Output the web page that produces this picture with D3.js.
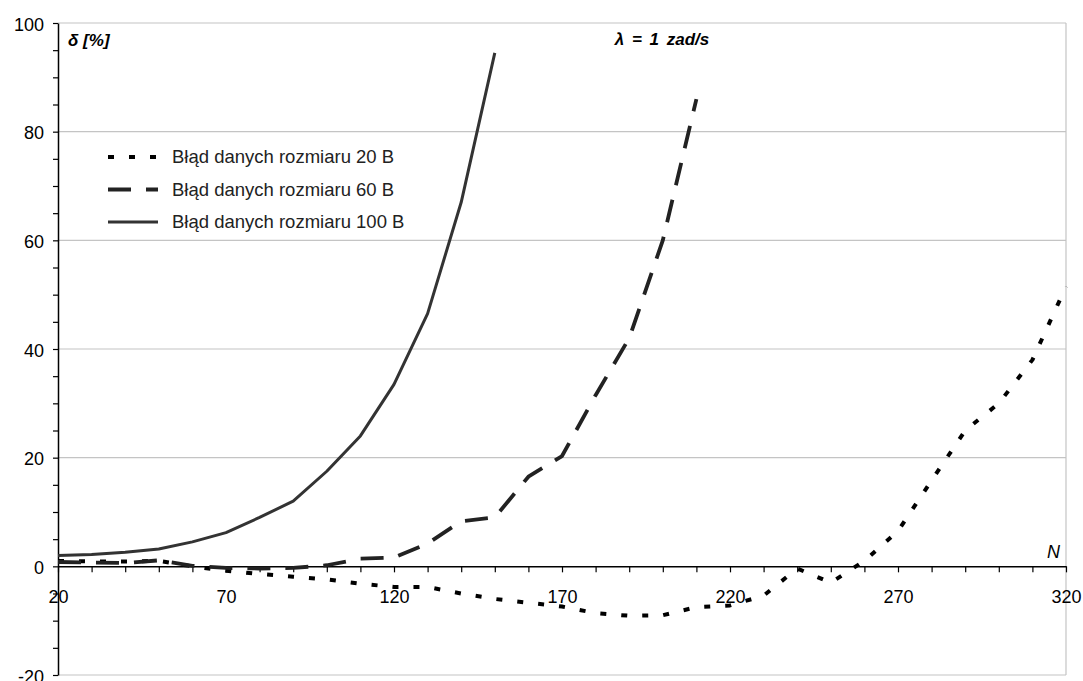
<!DOCTYPE html>
<html>
<head>
<meta charset="utf-8">
<script src="https://cdn.jsdelivr.net/npm/d3@7"></script>
<style>
  body { margin: 0; background: #fff; }
  text { font-family: "Liberation Sans", Arial, sans-serif; }
</style>
</head>
<body>
<div id="chart"></div>
<script>
// chart data
var n20 = [20, 30, 40, 50, 60, 70, 80, 90, 100, 110, 120, 130, 140, 150, 160, 170, 180, 190, 200, 210, 220, 230, 240, 250, 260, 270, 280, 290, 300, 310, 320];
var err20 = [1, 0.9, 0.9, 1, 0, -0.8, -1.4, -1.9, -2.4, -3.2, -3.8, -3.8, -5, -6, -6.7, -7.4, -8.6, -9.1, -9, -7.5, -7.2, -5.4, -0.4, -3, 1, 6.5, 15.8, 25, 30, 38, 51.5];
var n60 = [20, 30, 40, 50, 60, 70, 80, 90, 100, 110, 120, 130, 140, 150, 160, 170, 180, 190, 200, 210];
var err60 = [0.8, 0.7, 0.6, 1.1, 0.1, -0.3, -0.4, -0.3, 0.2, 1.4, 1.6, 4.2, 8.3, 9, 16.5, 20.3, 31.5, 42, 60, 86];
var n100 = [20, 30, 40, 50, 60, 70, 80, 90, 100, 110, 120, 130, 140, 150];
var err100 = [2, 2.2, 2.6, 3.2, 4.5, 6.2, 9, 12, 17.5, 24, 33.5, 46.5, 67, 94.5];

var seriesNames = ["Błąd danych rozmiaru 20 B", "Błąd danych rozmiaru 60 B", "Błąd danych rozmiaru 100 B"];
var xTickLabels = [20, 70, 120, 170, 220, 270, 320];
var yTickLabels = [-20, 0, 20, 40, 60, 80, 100];

var WIDTH = 1083, HEIGHT = 681;
var plotLeft = 58, plotRight = 1066, plotTop = 23, plotBottom = 675;

var svg = d3.select("#chart").append("svg")
    .attr("width", WIDTH)
    .attr("height", HEIGHT);

var x = d3.scaleLinear().domain([20, 320]).range([plotLeft, plotRight]);
var y = d3.scaleLinear().domain([-20, 100]).range([plotBottom, plotTop]);

// grid lines
svg.selectAll(".grid")
    .data([20, 40, 60, 80, 100])
    .enter().append("line")
    .attr("x1", plotLeft).attr("x2", plotRight)
    .attr("y1", function(d) { return y(d); })
    .attr("y2", function(d) { return y(d); })
    .attr("stroke", "#c4c4c4")
    .attr("stroke-width", 1.2);

// plot area border (right and bottom)
svg.append("line")
    .attr("x1", plotRight).attr("x2", plotRight).attr("y1", plotTop).attr("y2", plotBottom)
    .attr("stroke", "#c4c4c4").attr("stroke-width", 1.2);
svg.append("line")
    .attr("x1", plotLeft).attr("x2", plotRight).attr("y1", plotBottom).attr("y2", plotBottom)
    .attr("stroke", "#c4c4c4").attr("stroke-width", 1.2);

// y axis: minor ticks every 5, labels every 20
var yAxis = d3.axisLeft(y)
    .tickValues(d3.range(-20, 101, 5))
    .tickSize(5)
    .tickSizeOuter(0)
    .tickFormat(function(d) { return yTickLabels.indexOf(d) >= 0 ? d : ""; });
var gy = svg.append("g")
    .attr("transform", "translate(" + plotLeft + ",0)")
    .call(yAxis);
gy.select(".domain").attr("stroke", "#000").attr("stroke-width", 1.5);
gy.selectAll(".tick line").attr("stroke", "#000").attr("stroke-width", 1.2);
gy.selectAll(".tick text")
    .attr("x", -14)
    .attr("dy", "0.4em")
    .attr("font-size", "18px")
    .attr("font-family", "Liberation Sans, Arial, sans-serif")
    .attr("fill", "#000");

// x axis at zero
var xAxis = d3.axisBottom(x)
    .tickValues(d3.range(20, 321, 10))
    .tickSize(6)
    .tickSizeOuter(0)
    .tickFormat(function(d) { return xTickLabels.indexOf(d) >= 0 ? d : ""; });
var gx = svg.append("g")
    .attr("transform", "translate(0," + y(0) + ")")
    .call(xAxis);
gx.select(".domain").attr("stroke", "#000").attr("stroke-width", 1.5);
gx.selectAll(".tick line").attr("stroke", "#000").attr("stroke-width", 1.2);
gx.selectAll(".tick text")
    .attr("y", 24)
    .attr("font-size", "18px")
    .attr("font-family", "Liberation Sans, Arial, sans-serif")
    .attr("fill", "#000");

// series
var series = [
    { xs: n20, ys: err20, color: "#000", width: 4, dash: "6,15" },
    { xs: n60, ys: err60, color: "#222", width: 3.8, dash: "23,15" },
    { xs: n100, ys: err100, color: "#333", width: 3, dash: null }
];

var line = d3.line()
    .x(function(d) { return x(d[0]); })
    .y(function(d) { return y(d[1]); });

series.forEach(function(s) {
    var pts = s.xs.map(function(v, i) { return [v, s.ys[i]]; });
    svg.append("path")
        .datum(pts)
        .attr("d", line)
        .attr("fill", "none")
        .attr("stroke", s.color)
        .attr("stroke-width", s.width)
        .attr("stroke-dasharray", s.dash)
        .attr("stroke-linejoin", "round");
});

// legend
var legendY = [157, 189.5, 222];
series.forEach(function(s, i) {
    svg.append("line")
        .attr("x1", 108).attr("x2", 158)
        .attr("y1", legendY[i]).attr("y2", legendY[i])
        .attr("stroke", s.color)
        .attr("stroke-width", s.width)
        .attr("stroke-dasharray", s.dash);
    svg.append("text")
        .attr("x", 172)
        .attr("y", legendY[i])
        .attr("dy", "0.35em")
        .attr("font-size", "18.5px")
        .attr("fill", "#222")
        .text(seriesNames[i]);
});

// labels
svg.append("text")
    .attr("x", 68).attr("y", 46)
    .attr("font-size", "17px")
    .attr("font-weight", "bold")
    .attr("font-style", "italic")
    .text("δ [%]");

svg.append("text")
    .attr("x", 662).attr("y", 45)
    .attr("text-anchor", "middle")
    .attr("font-size", "17px")
    .attr("font-weight", "bold")
    .attr("font-style", "italic")
    .attr("word-spacing", "3px")
    .text("λ = 1 zad/s");

svg.append("text")
    .attr("x", 1060).attr("y", 558)
    .attr("text-anchor", "end")
    .attr("font-size", "18px")
    .attr("font-style", "italic")
    .text("N");
</script>
</body>
</html>
